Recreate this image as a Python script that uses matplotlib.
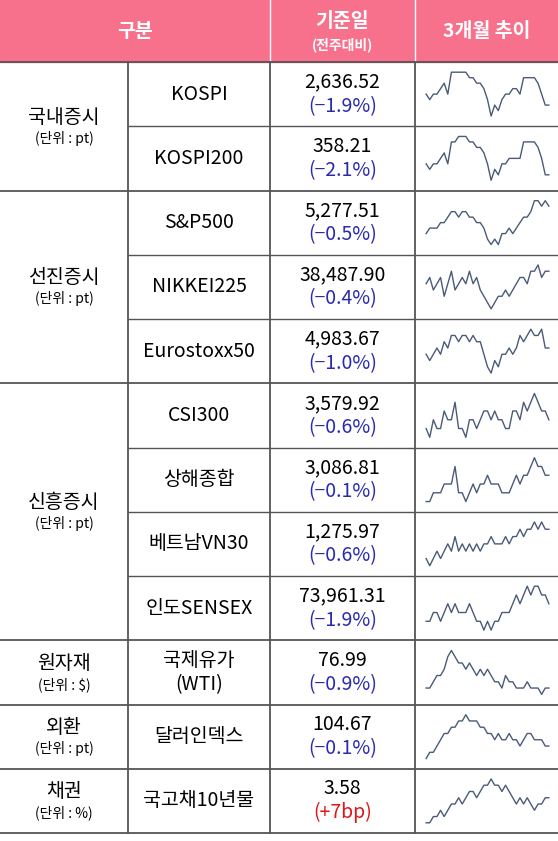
import matplotlib.pyplot as plt

plt.rcParams['font.family'] = ['Noto Sans CJK KR', 'DejaVu Sans']

groups = [("국내증시", "(단위 : pt)", 2), ("선진증시", "(단위 : pt)", 3), ("신흥증시", "(단위 : pt)", 4),
          ("원자재", "(단위 : $)", 1), ("외환", "(단위 : pt)", 1), ("채권", "(단위 : %)", 1)]
names = ["KOSPI", "KOSPI200", "S&P500", "NIKKEI225", "Eurostoxx50", "CSI300",
         "상해종합", "베트남VN30", "인도SENSEX", "국제유가\n(WTI)", "달러인덱스", "국고채10년물"]
values = ["2,636.52", "358.21", "5,277.51", "38,487.90", "4,983.67", "3,579.92",
          "3,086.81", "1,275.97", "73,961.31", "76.99", "104.67", "3.58"]
changes = ["(\u22121.9%)", "(\u22122.1%)", "(\u22120.5%)", "(\u22120.4%)", "(\u22121.0%)", "(\u22120.6%)",
           "(\u22120.1%)", "(\u22120.6%)", "(\u22121.9%)", "(\u22120.9%)", "(\u22120.1%)", "(+7bp)"]

spark = [
    [5, 4, 5, 5, 6, 7, 5, 9, 9, 9, 9, 9, 8, 8, 7, 7, 6, 4, 1, 3, 2, 4, 5, 5, 6, 6, 5, 8, 8, 8, 8, 7, 5, 3, 3],
    [4, 3, 4, 4, 5, 6, 4, 8, 8, 9, 9, 9, 8, 8, 7, 7, 6, 4, 1, 3, 2, 4, 4, 5, 5, 5, 5, 8, 8, 8, 8, 7, 5, 2, 2],
    [3, 4, 4, 4, 5, 5, 6, 7, 7, 6, 7, 7, 6, 6, 5, 5, 4, 2, 1, 2, 1, 3, 3, 4, 3, 4, 5, 6, 6, 7, 9, 9, 8, 9, 8],
    [6, 7, 5, 6, 7, 4, 6, 8, 5, 6, 7, 6, 8, 6, 7, 5, 4, 3, 2, 3, 4, 4, 5, 4, 5, 6, 7, 7, 6, 8, 8, 9, 7, 8, 8],
    [5, 4, 5, 6, 5, 7, 6, 8, 8, 7, 8, 8, 7, 8, 7, 7, 5, 3, 2, 4, 3, 5, 5, 6, 5, 6, 8, 7, 8, 9, 8, 8, 9, 6, 6],
    [5, 4, 6, 5, 5, 7, 6, 6, 8, 5, 5, 4, 6, 6, 5, 6, 7, 7, 6, 7, 6, 6, 5, 5, 7, 7, 6, 8, 7, 8, 9, 8, 7, 7, 6],
    [4, 4, 5, 5, 5, 6, 6, 6, 8, 5, 5, 4, 5, 6, 5, 6, 6, 7, 6, 6, 6, 5, 5, 5, 6, 7, 6, 7, 7, 8, 9, 8, 8, 7, 7],
    [4, 3, 4, 5, 4, 5, 6, 5, 7, 5, 6, 5, 6, 5, 6, 5, 6, 6, 7, 6, 6, 6, 7, 6, 7, 7, 8, 7, 8, 8, 9, 8, 9, 8, 8],
    [5, 5, 6, 6, 5, 6, 7, 6, 7, 6, 6, 6, 7, 6, 5, 5, 4, 5, 4, 5, 5, 6, 6, 6, 7, 8, 7, 8, 9, 8, 9, 9, 8, 8, 7],
    [3, 3, 4, 5, 5, 6, 8, 9, 8, 7, 7, 6, 7, 6, 5, 6, 5, 6, 5, 4, 4, 3, 5, 4, 4, 3, 3, 3, 4, 3, 3, 3, 2, 3, 3],
    [2, 3, 3, 4, 5, 6, 6, 7, 7, 8, 8, 9, 8, 8, 8, 7, 7, 6, 6, 5, 6, 5, 5, 6, 5, 5, 4, 5, 6, 6, 5, 5, 5, 4, 4],
    [2, 2, 3, 3, 4, 3, 4, 5, 5, 6, 5, 6, 7, 7, 6, 7, 8, 8, 9, 8, 8, 7, 8, 7, 6, 5, 6, 5, 6, 5, 4, 5, 5, 6, 6],
]

W, H = 558, 841
fig = plt.figure(figsize=(W / 100, H / 100), dpi=100)
ax = fig.add_axes([0, 0, 1, 1])
ax.set_xlim(0, W)
ax.set_ylim(H, 0)
ax.axis('off')

pink = '#F7708C'
blue = '#2A2AB0'
red = '#E01515'
line = '#555555'
x0, x1, x2, x3 = 0, 128, 270, 415
top = 62
rh = (833 - top) / 12

ax.add_patch(plt.Rectangle((0, 0), W, top, color=pink))
for xv in (x2, x3):
    ax.plot([xv, xv], [0, top], color='white', lw=1)
ax.text((x0 + x2) / 2, top / 2, "구분", ha='center', va='center', color='white', fontsize=14, weight='bold')
ax.text((x2 + x3) / 2, 21, "기준일", ha='center', va='center', color='white', fontsize=14, weight='bold')
ax.text((x2 + x3) / 2, 45, "(전주대비)", ha='center', va='center', color='white', fontsize=10, weight='bold')
ax.text((x3 + W) / 2, top / 2, "3개월 추이", ha='center', va='center', color='white', fontsize=14, weight='bold')

i = 0
for gname, unit, n in groups:
    ys = top + i * rh
    ye = ys + n * rh
    ax.plot([0, W], [ys, ys], color=line, lw=1.3)
    yc = (ys + ye) / 2
    ax.text(x1 / 2, yc - 9, gname, ha='center', va='center', fontsize=14)
    ax.text(x1 / 2, yc + 12, unit, ha='center', va='center', fontsize=10)
    for k in range(n):
        r = i + k
        yt = top + r * rh
        if k > 0:
            ax.plot([x1, W], [yt, yt], color=line, lw=1)
        ax.text((x1 + x2) / 2, yt + rh / 2, names[r], ha='center', va='center', fontsize=14,
                linespacing=1.2)
        ax.text((x2 + x3) / 2, yt + rh / 2 - 12, values[r], ha='center', va='center', fontsize=14)
        ax.text((x2 + x3) / 2, yt + rh / 2 + 12, changes[r], ha='center', va='center', fontsize=14,
                color=red if r == 11 else blue)
        sax = fig.add_axes([(x3 + 5) / W, 1 - (yt + rh - 8) / H, (W - x3 - 8) / W, (rh - 16) / H])
        sax.plot(spark[r], color='#4A5A78', lw=1)
        sax.axis('off')
    i += n
ax.plot([0, W], [833, 833], color=line, lw=1.3)
for xv in (x1, x2, x3):
    ax.plot([xv, xv], [top, 833], color=line, lw=1.3)

fig.savefig("out.png", dpi=100)
